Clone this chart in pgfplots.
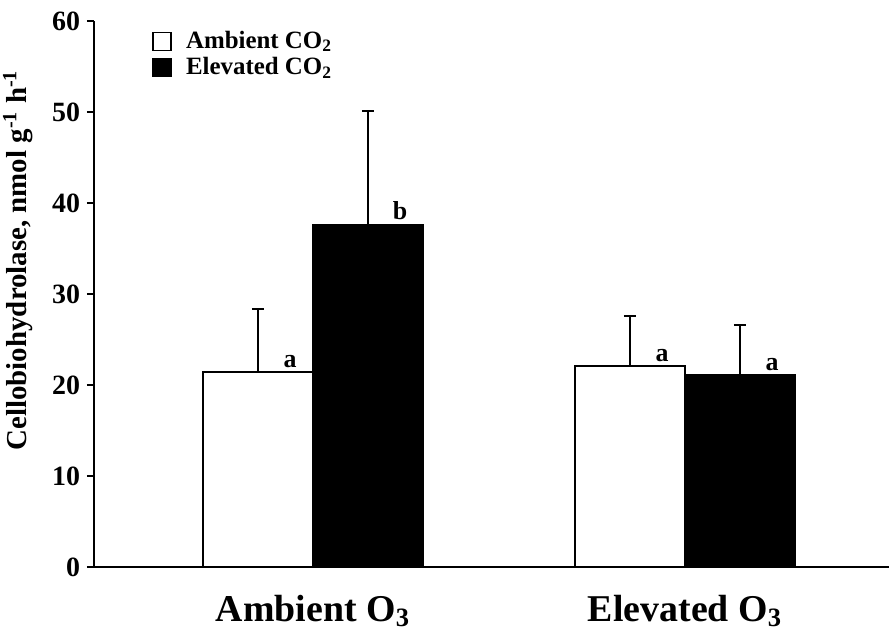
\documentclass[border=0pt]{standalone}
\usepackage{fontspec}
\setmainfont{Liberation Serif}
\usepackage{pgfplots}
\usepackage{pgfplotstable}
\pgfplotsset{compat=1.18}

% mean, upper error, significance letter
\pgfplotstableread{
x y e m
0 21.4 7.0 a
1 22.1 5.5 a
}\ambientco
\pgfplotstableread{
x y e m
0 37.6 12.5 b
1 21.1 5.5 a
}\elevatedco

\begin{document}
\begin{tikzpicture}
\begin{axis}[
  at={(0,0)}, anchor=south west,
  scale only axis,
  width=397.5bp, height=273bp,
  xmin=-0.5887, xmax=1.5484,
  ymin=0, ymax=60,
  axis x line=bottom, axis y line=left,
  axis line style={-, line width=1pt},
  ybar=0pt, bar width=55bp,
  ytick={0,10,...,60},
  tick align=outside,
  major tick length=3.5bp,
  y tick style={line width=0.8pt, black},
  xtick={0,1},
  xticklabels={Ambient O\textsubscript{3}, Elevated O\textsubscript{3}},
  x tick style={draw=none},
  x tick label style={font=\fontsize{19}{20}\selectfont\bfseries, yshift=-7bp},
  y tick label style={font=\fontsize{14}{15}\selectfont\bfseries},
  /pgf/number format/assume math mode=true,
  ylabel={Cellobiohydrolase, nmol g\textsuperscript{-1} h\textsuperscript{-1}},
  ylabel style={font=\fontsize{14.5}{15}\selectfont\bfseries,
    at={(axis description cs:-0.0956,0.562)}, anchor=center},
  legend style={draw=none, fill=none, at={(axis description cs:0.0655,0.997)},
    anchor=north west, font=\fontsize{12.5}{13}\selectfont\bfseries,
    row sep=-1bp, legend cell align=left},
  nodes near coords,
  point meta=explicit symbolic,
  nodes near coords style={anchor=south, xshift=16bp, yshift=-1.5bp, text=black,
    font=\fontsize{13}{14}\selectfont\bfseries},
  error bars/y dir=plus,
  error bars/y explicit,
  error bars/error bar style={line width=1pt, black},
  error bars/error mark options={rotate=90, mark size=3bp, line width=1pt, black},
]
\addplot[fill=white, draw=black, line width=1pt,
  legend image code/.code={\draw[fill=white, draw=black, line width=0.6pt] (0bp,-4.5bp) rectangle (9bp,4.5bp); \path (14bp,0bp);}]
  table[x=x, y=y, y error=e, meta=m] {\ambientco};
\addplot[fill=black, draw=black, line width=1pt,
  legend image code/.code={\draw[fill=black, draw=black, line width=0.6pt] (0bp,-4.5bp) rectangle (9bp,4.5bp); \path (14bp,0bp);}]
  table[x=x, y=y, y error=e, meta=m] {\elevatedco};
\legend{Ambient CO\textsubscript{2}, Elevated CO\textsubscript{2}}
\end{axis}
\pgfresetboundingbox
\path (-47bp,-31.5bp) rectangle (397.5bp,283.5bp);
\end{tikzpicture}
\end{document}
